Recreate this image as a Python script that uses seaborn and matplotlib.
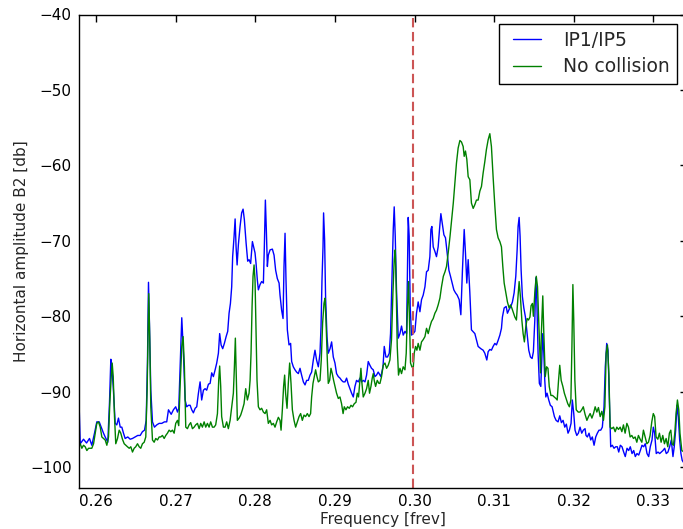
import matplotlib
matplotlib.use("Agg")
import matplotlib.pyplot as plt
from matplotlib.legend_handler import HandlerLine2D
import seaborn as sns
import numpy as np

# Beam 2 horizontal spectrum, IP1/IP5 collisions
ip15_freq = [
    0.25780, 0.25802, 0.25843, 0.25881, 0.25918, 0.25947, 0.25981, 0.26010, 0.26040, 0.26065,
    0.26094, 0.26115, 0.26148, 0.26169, 0.26186, 0.26198, 0.26216, 0.26241, 0.26261, 0.26282,
    0.26304, 0.26324, 0.26345, 0.26366, 0.26399, 0.26429, 0.26458, 0.26492, 0.26524, 0.26555,
    0.26583, 0.26609, 0.26630, 0.26646, 0.26659, 0.26671, 0.26688, 0.26709, 0.26734, 0.26763,
    0.26793, 0.26826, 0.26859, 0.26888, 0.26910, 0.26944, 0.26972, 0.27001, 0.27023, 0.27039,
    0.27056, 0.27077, 0.27098, 0.27119, 0.27139, 0.27161, 0.27182, 0.27202, 0.27223, 0.27245,
    0.27265, 0.27286, 0.27307, 0.27327, 0.27349, 0.27370, 0.27390, 0.27412, 0.27433, 0.27453,
    0.27474, 0.27496, 0.27516, 0.27537, 0.27553, 0.27571, 0.27591, 0.27612, 0.27634, 0.27654,
    0.27671, 0.27688, 0.27704, 0.27716, 0.27734, 0.27747, 0.27759, 0.27772, 0.27788, 0.27809,
    0.27829, 0.27847, 0.27863, 0.27885, 0.27905, 0.27922, 0.27942, 0.27964, 0.27980, 0.27997,
    0.28010, 0.28026, 0.28039, 0.28060, 0.28080, 0.28102, 0.28114, 0.28127, 0.28139, 0.28152,
    0.28164, 0.28186, 0.28215, 0.28236, 0.28256, 0.28277, 0.28299, 0.28311, 0.28331, 0.28349,
    0.28361, 0.28374, 0.28386, 0.28403, 0.28424, 0.28444, 0.28457, 0.28478, 0.28499, 0.28519,
    0.28541, 0.28562, 0.28582, 0.28604, 0.28625, 0.28645, 0.28666, 0.28688, 0.28708, 0.28729,
    0.28750, 0.28770, 0.28792, 0.28813, 0.28826, 0.28838, 0.28851, 0.28858, 0.28871, 0.28883,
    0.28901, 0.28917, 0.28939, 0.28959, 0.28980, 0.29001, 0.29021, 0.29043, 0.29064, 0.29084,
    0.29105, 0.29127, 0.29147, 0.29168, 0.29189, 0.29210, 0.29231, 0.29252, 0.29272, 0.29294,
    0.29315, 0.29335, 0.29356, 0.29378, 0.29398, 0.29419, 0.29440, 0.29460, 0.29482, 0.29503,
    0.29523, 0.29544, 0.29578, 0.29604, 0.29620, 0.29641, 0.29661, 0.29683, 0.29699, 0.29717,
    0.29733, 0.29745, 0.29758, 0.29774, 0.29796, 0.29817, 0.29837, 0.29858, 0.29880, 0.29900,
    0.29912, 0.29921, 0.29933, 0.29946, 0.29962, 0.29984, 0.30005, 0.30025, 0.30046, 0.30068,
    0.30088, 0.30109, 0.30131, 0.30151, 0.30172, 0.30193, 0.30206, 0.30218, 0.30235, 0.30256,
    0.30276, 0.30297, 0.30314, 0.30331, 0.30348, 0.30369, 0.30389, 0.30410, 0.30432, 0.30452,
    0.30473, 0.30494, 0.30515, 0.30536, 0.30561, 0.30582, 0.30602, 0.30624, 0.30640, 0.30657,
    0.30674, 0.30695, 0.30715, 0.30758, 0.30799, 0.30833, 0.30862, 0.30883, 0.30908, 0.30925,
    0.30946, 0.30966, 0.30987, 0.31009, 0.31029, 0.31050, 0.31072, 0.31092, 0.31104, 0.31126,
    0.31151, 0.31167, 0.31188, 0.31210, 0.31230, 0.31251, 0.31272, 0.31289, 0.31301, 0.31314,
    0.31326, 0.31339, 0.31355, 0.31373, 0.31393, 0.31414, 0.31435, 0.31456, 0.31477, 0.31493,
    0.31511, 0.31523, 0.31536, 0.31552, 0.31568, 0.31586, 0.31599, 0.31611, 0.31624, 0.31636,
    0.31649, 0.31665, 0.31686, 0.31706, 0.31728, 0.31757, 0.31778, 0.31803, 0.31824, 0.31845,
    0.31866, 0.31887, 0.31907, 0.31928, 0.31945, 0.31966, 0.31982, 0.32000, 0.32016, 0.32038,
    0.32058, 0.32079, 0.32100, 0.32120, 0.32142, 0.32154, 0.32171, 0.32192, 0.32213, 0.32233,
    0.32255, 0.32276, 0.32296, 0.32317, 0.32339, 0.32359, 0.32380, 0.32396, 0.32414, 0.32430,
    0.32447, 0.32464, 0.32484, 0.32506, 0.32527, 0.32547, 0.32565, 0.32585, 0.32606, 0.32627,
    0.32647, 0.32669, 0.32690, 0.32710, 0.32732, 0.32753, 0.32773, 0.32794, 0.32816, 0.32836,
    0.32857, 0.32878, 0.32898, 0.32920, 0.32941, 0.32961, 0.32983, 0.32999, 0.33016, 0.33036,
    0.33058, 0.33079, 0.33099, 0.33120, 0.33142, 0.33162, 0.33183, 0.33204, 0.33225, 0.33246,
    0.33262, 0.33280, 0.33296, 0.33313, 0.33330, 0.33346, 0.33362, 0.33386,
]
ip15_db = [
    -89.0, -96.9, -96.3, -96.8, -96.2, -97.1, -95.5, -94.0, -94.0, -94.7,
    -95.5, -96.0, -96.7, -91.5, -85.7, -86.7, -89.3, -94.2, -94.4, -93.5,
    -94.7, -94.7, -95.5, -96.2, -96.0, -96.3, -96.2, -96.0, -95.8, -95.8,
    -95.3, -95.1, -93.8, -86.2, -75.5, -80.9, -89.8, -94.0, -94.7, -94.4,
    -94.2, -94.2, -94.0, -94.0, -92.4, -93.0, -92.4, -92.0, -92.7, -92.2,
    -86.7, -80.2, -84.9, -91.1, -92.0, -91.8, -91.8, -92.4, -92.8, -92.2,
    -92.0, -90.2, -88.7, -91.1, -89.8, -89.6, -89.8, -89.0, -88.9, -87.5,
    -88.0, -87.1, -86.2, -84.9, -82.3, -83.8, -84.3, -83.6, -82.7, -82.0,
    -79.6, -78.3, -76.1, -72.1, -69.4, -67.1, -70.8, -73.2, -70.5, -68.1,
    -66.3, -65.8, -67.2, -70.3, -72.7, -72.5, -73.0, -70.1, -70.8, -71.6,
    -73.0, -75.2, -76.5, -75.8, -75.4, -75.6, -70.8, -64.6, -68.5, -73.4,
    -71.9, -71.2, -71.1, -71.9, -73.9, -75.0, -75.6, -77.2, -79.2, -80.3,
    -73.4, -69.0, -75.2, -81.8, -83.8, -83.6, -86.0, -86.7, -87.1, -87.4,
    -87.6, -86.9, -87.8, -88.7, -89.1, -88.5, -88.5, -87.8, -87.4, -85.8,
    -84.5, -85.8, -86.7, -84.9, -81.4, -75.2, -70.8, -66.3, -69.9, -77.4,
    -82.7, -84.9, -84.3, -83.4, -85.4, -86.2, -87.6, -88.0, -88.2, -88.5,
    -88.7, -88.7, -88.2, -89.0, -89.6, -90.2, -90.7, -89.3, -88.5, -88.7,
    -88.2, -88.7, -88.5, -88.7, -87.8, -86.0, -86.5, -86.9, -87.1, -88.0,
    -87.8, -87.4, -88.0, -86.7, -84.0, -85.4, -85.4, -84.9, -82.3, -75.2,
    -68.5, -65.5, -69.4, -76.5, -82.9, -82.3, -81.3, -82.5, -82.0, -82.3,
    -73.9, -66.9, -69.4, -78.7, -82.5, -82.3, -82.0, -79.6, -78.1, -79.4,
    -77.8, -77.2, -76.1, -74.1, -73.9, -72.1, -68.5, -68.1, -70.8, -71.4,
    -72.1, -70.8, -68.5, -66.4, -67.7, -69.2, -69.6, -71.6, -73.9, -74.7,
    -75.6, -76.5, -76.9, -77.2, -77.8, -79.8, -73.9, -68.5, -71.6, -75.6,
    -72.5, -76.9, -81.8, -82.3, -84.0, -84.3, -84.5, -84.9, -85.8, -84.7,
    -84.4, -84.5, -84.0, -83.6, -83.8, -83.2, -82.5, -81.6, -80.1, -78.9,
    -78.7, -79.6, -79.1, -78.7, -78.1, -76.9, -74.7, -71.2, -68.1, -66.9,
    -69.4, -73.9, -77.4, -78.9, -80.1, -82.3, -84.5, -85.4, -85.6, -84.7,
    -80.5, -74.9, -77.8, -84.9, -88.9, -89.3, -85.8, -82.3, -84.9, -88.5,
    -90.7, -90.2, -91.1, -91.8, -92.0, -93.3, -93.8, -94.0, -93.2, -94.1,
    -93.8, -94.7, -94.3, -95.5, -95.1, -94.2, -91.1, -92.9, -95.1, -95.8,
    -95.5, -94.7, -95.5, -95.1, -94.9, -95.8, -96.0, -95.5, -96.4, -96.0,
    -97.1, -96.0, -95.5, -95.1, -95.1, -94.7, -92.0, -86.7, -83.6, -84.5,
    -91.1, -97.3, -97.1, -97.5, -97.3, -97.3, -98.0, -97.1, -97.3, -98.0,
    -98.6, -97.5, -97.8, -97.3, -98.2, -97.8, -98.6, -98.2, -98.4, -97.8,
    -97.1, -97.3, -96.9, -98.2, -98.6, -97.3, -96.4, -94.7, -95.5, -98.2,
    -98.0, -98.2, -98.0, -97.8, -97.5, -98.2, -98.0, -97.3, -96.4, -98.6,
    -97.3, -95.1, -91.8, -93.3, -96.4, -98.2, -99.1, -99.5,
]

# Same beam without collisions
nocoll_freq = [
    0.25780, 0.25802, 0.25822, 0.25843, 0.25864, 0.25885, 0.25906, 0.25927, 0.25947, 0.25969,
    0.25990, 0.26010, 0.26031, 0.26053, 0.26073, 0.26094, 0.26115, 0.26136, 0.26157, 0.26173,
    0.26191, 0.26203, 0.26216, 0.26232, 0.26248, 0.26270, 0.26291, 0.26311, 0.26332, 0.26354,
    0.26374, 0.26395, 0.26417, 0.26437, 0.26458, 0.26479, 0.26499, 0.26521, 0.26542, 0.26562,
    0.26583, 0.26605, 0.26625, 0.26642, 0.26655, 0.26662, 0.26675, 0.26688, 0.26709, 0.26730,
    0.26750, 0.26772, 0.26793, 0.26813, 0.26834, 0.26856, 0.26876, 0.26897, 0.26918, 0.26939,
    0.26960, 0.26981, 0.27001, 0.27023, 0.27039, 0.27056, 0.27077, 0.27094, 0.27110, 0.27127,
    0.27148, 0.27169, 0.27189, 0.27211, 0.27232, 0.27252, 0.27274, 0.27295, 0.27315, 0.27336,
    0.27358, 0.27378, 0.27399, 0.27420, 0.27440, 0.27462, 0.27483, 0.27503, 0.27525, 0.27541,
    0.27553, 0.27566, 0.27578, 0.27600, 0.27621, 0.27641, 0.27662, 0.27684, 0.27704, 0.27725,
    0.27738, 0.27750, 0.27763, 0.27775, 0.27797, 0.27817, 0.27838, 0.27859, 0.27880, 0.27901,
    0.27922, 0.27935, 0.27947, 0.27960, 0.27972, 0.27985, 0.27997, 0.28010, 0.28022, 0.28039,
    0.28060, 0.28080, 0.28102, 0.28123, 0.28143, 0.28164, 0.28186, 0.28206, 0.28227, 0.28248,
    0.28269, 0.28290, 0.28311, 0.28324, 0.28340, 0.28356, 0.28369, 0.28381, 0.28399, 0.28415,
    0.28432, 0.28449, 0.28466, 0.28487, 0.28507, 0.28528, 0.28550, 0.28570, 0.28591, 0.28612,
    0.28632, 0.28654, 0.28675, 0.28695, 0.28708, 0.28725, 0.28742, 0.28758, 0.28775, 0.28792,
    0.28813, 0.28829, 0.28846, 0.28863, 0.28876, 0.28888, 0.28905, 0.28917, 0.28934, 0.28951,
    0.28967, 0.28984, 0.29001, 0.29021, 0.29043, 0.29064, 0.29084, 0.29103, 0.29118, 0.29139,
    0.29159, 0.29181, 0.29202, 0.29222, 0.29243, 0.29265, 0.29281, 0.29297, 0.29315, 0.29327,
    0.29340, 0.29356, 0.29378, 0.29398, 0.29419, 0.29435, 0.29453, 0.29469, 0.29482, 0.29494,
    0.29511, 0.29532, 0.29553, 0.29566, 0.29586, 0.29607, 0.29629, 0.29649, 0.29670, 0.29691,
    0.29711, 0.29729, 0.29745, 0.29758, 0.29770, 0.29783, 0.29799, 0.29817, 0.29837, 0.29858,
    0.29880, 0.29896, 0.29912, 0.29925, 0.29937, 0.29950, 0.29967, 0.29984, 0.29996, 0.30013,
    0.30030, 0.30046, 0.30068, 0.30088, 0.30109, 0.30131, 0.30151, 0.30172, 0.30193, 0.30213,
    0.30235, 0.30256, 0.30276, 0.30297, 0.30319, 0.30339, 0.30362, 0.30383, 0.30402, 0.30423,
    0.30446, 0.30466, 0.30487, 0.30508, 0.30527, 0.30548, 0.30570, 0.30590, 0.30611, 0.30624,
    0.30640, 0.30657, 0.30674, 0.30695, 0.30715, 0.30737, 0.30758, 0.30778, 0.30799, 0.30821,
    0.30841, 0.30862, 0.30883, 0.30903, 0.30925, 0.30946, 0.30966, 0.30987, 0.31009, 0.31029,
    0.31050, 0.31072, 0.31092, 0.31109, 0.31126, 0.31147, 0.31167, 0.31188, 0.31205, 0.31222,
    0.31238, 0.31260, 0.31280, 0.31297, 0.31314, 0.31330, 0.31348, 0.31364, 0.31380, 0.31398,
    0.31414, 0.31432, 0.31450, 0.31464, 0.31481, 0.31493, 0.31511, 0.31529, 0.31545, 0.31563,
    0.31583, 0.31593, 0.31611, 0.31624, 0.31642, 0.31659, 0.31676, 0.31692, 0.31713, 0.31734,
    0.31755, 0.31776, 0.31792, 0.31809, 0.31824, 0.31842, 0.31863, 0.31882, 0.31904, 0.31925,
    0.31945, 0.31964, 0.31977, 0.31989, 0.32000, 0.32014, 0.32031, 0.32056, 0.32079, 0.32100,
    0.32120, 0.32142, 0.32165, 0.32185, 0.32206, 0.32228, 0.32248, 0.32269, 0.32290, 0.32310,
    0.32332, 0.32353, 0.32373, 0.32391, 0.32407, 0.32423, 0.32441, 0.32457, 0.32478, 0.32499,
    0.32520, 0.32541, 0.32562, 0.32583, 0.32604, 0.32624, 0.32645, 0.32667, 0.32687, 0.32708,
    0.32729, 0.32750, 0.32771, 0.32792, 0.32812, 0.32834, 0.32855, 0.32875, 0.32896, 0.32918,
    0.32938, 0.32959, 0.32980, 0.32999, 0.33016, 0.33034, 0.33056, 0.33076, 0.33097, 0.33118,
    0.33139, 0.33160, 0.33181, 0.33201, 0.33219, 0.33235, 0.33252, 0.33269, 0.33285, 0.33302,
    0.33319, 0.33334, 0.33357, 0.33386,
]
nocoll_db = [
    -97.3, -96.9, -97.5, -97.1, -97.3, -97.8, -97.5, -97.5, -97.5, -96.9,
    -95.5, -94.2, -94.0, -94.7, -96.0, -96.2, -96.4, -97.1, -96.0, -91.6,
    -88.0, -86.2, -88.0, -93.3, -96.9, -96.2, -95.1, -95.5, -96.3, -96.9,
    -97.1, -97.3, -97.5, -97.3, -98.0, -97.5, -97.3, -96.9, -97.3, -97.5,
    -96.9, -96.7, -96.0, -89.8, -81.8, -77.0, -83.1, -92.0, -96.4, -96.7,
    -96.2, -96.4, -96.0, -96.0, -95.8, -96.2, -95.8, -95.5, -95.1, -95.3,
    -95.1, -95.5, -94.2, -93.8, -94.5, -89.3, -84.0, -82.7, -86.7, -94.7,
    -94.9, -94.4, -94.1, -94.9, -94.7, -94.4, -94.2, -94.9, -94.2, -94.7,
    -94.0, -94.7, -94.2, -94.7, -94.0, -94.7, -94.7, -94.4, -92.9, -88.5,
    -86.6, -89.3, -93.3, -94.7, -94.7, -94.0, -94.9, -93.8, -92.0, -90.2,
    -86.7, -82.9, -88.5, -93.8, -93.5, -93.1, -92.4, -91.6, -89.6, -91.1,
    -90.2, -88.5, -84.9, -78.7, -74.7, -73.2, -75.2, -81.8, -88.5, -92.0,
    -92.4, -92.2, -92.7, -92.9, -92.4, -94.2, -93.8, -94.4, -94.2, -94.7,
    -94.0, -93.4, -93.8, -95.1, -92.4, -89.3, -87.8, -90.2, -92.2, -88.9,
    -86.2, -88.9, -92.4, -93.8, -94.7, -94.0, -93.3, -92.9, -93.8, -93.1,
    -93.3, -92.9, -93.3, -92.9, -90.7, -88.9, -88.0, -87.1, -88.0, -88.7,
    -88.5, -85.8, -80.9, -78.3, -77.6, -80.5, -85.8, -88.9, -88.5, -86.9,
    -87.6, -88.5, -89.3, -90.2, -90.9, -90.7, -91.6, -92.9, -92.0, -92.4,
    -92.0, -92.2, -91.8, -92.0, -91.6, -91.4, -90.2, -90.7, -88.5, -86.9,
    -88.9, -90.7, -90.2, -89.6, -88.5, -90.2, -89.3, -88.2, -87.6, -88.5,
    -89.3, -88.5, -88.9, -88.9, -88.0, -86.5, -86.2, -86.9, -86.5, -85.8,
    -83.1, -76.9, -72.5, -71.2, -76.1, -84.0, -87.8, -86.9, -87.6, -86.7,
    -87.1, -84.9, -78.7, -75.4, -80.5, -86.2, -86.7, -86.9, -84.9, -84.0,
    -84.5, -83.6, -84.5, -83.4, -83.1, -82.7, -81.6, -82.3, -81.4, -80.7,
    -80.3, -79.6, -79.2, -78.5, -77.6, -76.1, -74.7, -74.1, -73.4, -71.6,
    -69.4, -67.2, -65.0, -62.3, -59.7, -57.7, -56.7, -56.9, -57.5, -58.8,
    -58.1, -59.2, -61.5, -61.9, -65.0, -65.7, -65.2, -64.6, -64.6, -63.4,
    -62.8, -61.0, -59.5, -57.9, -56.6, -55.8, -57.5, -61.5, -65.4, -68.5,
    -69.6, -70.1, -70.8, -73.4, -75.6, -76.9, -78.1, -78.9, -78.5, -78.9,
    -79.4, -80.1, -80.5, -77.8, -75.4, -77.4, -80.5, -82.3, -83.4, -81.4,
    -80.3, -80.5, -80.1, -78.6, -78.3, -80.0, -76.9, -74.7, -76.1, -81.4,
    -87.5, -82.3, -77.3, -82.3, -88.0, -86.7, -86.9, -89.3, -90.5, -90.5,
    -90.7, -90.9, -91.1, -88.5, -86.5, -88.5, -89.3, -90.2, -90.9, -91.6,
    -92.0, -91.1, -84.0, -75.8, -80.5, -88.5, -92.4, -92.7, -92.7, -92.4,
    -92.0, -93.0, -93.8, -93.3, -92.9, -93.5, -92.9, -92.0, -92.7, -92.1,
    -93.3, -92.6, -93.8, -92.0, -84.9, -83.8, -87.6, -94.7, -94.9, -94.7,
    -95.3, -94.7, -95.0, -94.7, -95.3, -94.4, -95.5, -94.2, -94.7, -96.0,
    -95.8, -96.2, -96.0, -96.7, -95.8, -96.3, -96.7, -95.1, -96.0, -96.9,
    -96.7, -95.8, -94.0, -92.9, -93.3, -96.0, -96.3, -95.5, -96.7, -95.8,
    -96.9, -96.2, -97.3, -95.5, -95.1, -96.9, -97.1, -95.5, -92.9, -91.1,
    -92.4, -95.5, -97.8, -98.0,
]

tune_line = 0.2998
x_ticks = [0.26, 0.27, 0.28, 0.29, 0.30, 0.31, 0.32, 0.33]
y_ticks = [-100, -90, -80, -70, -60, -50, -40]

sns.set_style("white")
plt.rcParams["font.family"] = ["DejaVu Sans"]

fig = plt.figure(figsize=(6.83, 5.29), dpi=100)
W, H = 683.0, 529.0
ax = fig.add_axes([78.5 / W, 1 - 487.5 / H, (686.5 - 78.5) / W, (487.5 - 14.5) / H])

sns.lineplot(x=ip15_freq, y=ip15_db, ax=ax, color="#0000ff", lw=1.0,
             sort=False, estimator=None, label="IP1/IP5")
sns.lineplot(x=nocoll_freq, y=nocoll_db, ax=ax, color="#008000", lw=1.0,
             sort=False, estimator=None, label="No collision")
ax.axvline(tune_line, color="#cc5555", lw=1.5, dashes=(4.5, 2.2))

ax.set_xlim(0.2578, 0.33416)
ax.set_ylim(-102.7, -40)
ax.set_xticks(x_ticks)
ax.set_xticklabels([f"{t:.2f}" for t in x_ticks])
ax.set_yticks(y_ticks)
ax.tick_params(direction="in", length=5, width=1, top=True, right=True,
               labelsize=11, colors="black", pad=5)
for s in ax.spines.values():
    s.set_color("black")
    s.set_linewidth(1.0)

ax.set_xlabel("Frequency [frev]", fontsize=11, labelpad=2)
ax.set_ylabel("Horizontal amplitude B2 [db]", fontsize=11, labelpad=0.5)

# legend line handles inset from the frame's left edge
handler = HandlerLine2D(xpad=0.37)
leg = ax.legend(loc="upper right", fontsize=13.5, frameon=True, fancybox=False,
                framealpha=1, edgecolor="black", handlelength=1.87,
                handletextpad=1.17, labelspacing=0.4, borderpad=0.38,
                borderaxespad=0.5,
                handler_map={matplotlib.lines.Line2D: handler})
leg.get_frame().set_linewidth(1.0)

fig.savefig("out.png", dpi=100)
